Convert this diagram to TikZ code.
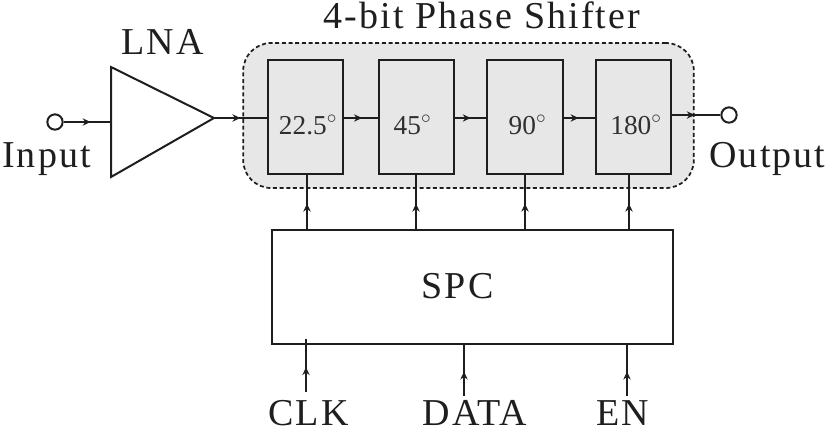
\documentclass[tikz,border=0pt]{standalone}
\usepackage{fontspec}
\setmainfont{Liberation Serif}
\usetikzlibrary{arrows.meta,decorations.markings}
\definecolor{panel}{RGB}{231,231,231}
\definecolor{ink}{RGB}{30,30,30}
\tikzset{
  x=0.75pt,y=-0.75pt,
  wire/.style={draw=ink,line width=1.4pt},
  flow/.style={wire,postaction={decorate},decoration={markings,mark=at position #1 with {\arrow{Stealth[length=6pt,width=5.5pt]}}}},
  flow/.default=0.5,
  phase/.style={draw=ink,line width=1.5pt,fill=panel,minimum width=56.5pt,minimum height=85.5pt,inner sep=0pt},
  phasetext/.style={anchor=base,inner sep=0pt,font=\fontsize{20.5}{22}\selectfont,text=ink!92},
  pin/.style={circle,draw=ink,line width=1.5pt,fill=white,minimum size=11.5pt,inner sep=0pt},
  lab/.style={anchor=base,inner sep=0pt,font=\fontsize{28.5}{30}\selectfont\addfontfeature{LetterSpace=5.5},text=ink},
}
\begin{document}
\begin{tikzpicture}
\useasboundingbox (0,0) rectangle (827,429);
\node[draw=ink,dash pattern=on 3pt off 2pt,line width=1.3pt,fill=panel,rounded corners=21pt,minimum width=338pt,minimum height=108.75pt,inner sep=0pt] (group) at (468.5,115.5) {};
\node[phase] (p1) at (305.5,117) {};
\node[phase] (p2) at (416.5,117) {};
\node[phase] (p3) at (525,117) {};
\node[phase] (p4) at (633.5,117) {};
\node[phasetext] (p1t) at (308,134) {22.5$^{\circ}$};
\node[phasetext] (p2t) at (412.5,134) {45$^{\circ}$};
\node[phasetext] (p3t) at (527.5,134) {90$^{\circ}$};
\node[phasetext] (p4t) at (636,134) {180$^{\circ}$};
\node[draw=ink,line width=1.5pt,minimum width=300.75pt,minimum height=85.5pt,inner sep=0pt] (spc) at (472.5,287) {};
\node[lab] (spct) at (457.5,298) {SPC};
\coordinate (t1) at (111,67);
\coordinate (t2) at (111,177);
\coordinate (lnaout) at (214,118);
\coordinate (lnain) at (111,122);
\draw[draw=ink,line width=1.5pt,line join=miter] (t1) -- (lnaout) -- (t2) -- cycle;
\node[pin] (in) at (55,122) {};
\node[pin] (out) at (729,115) {};
\draw[flow=0.57] (in) -- (lnain);
\draw[flow=0.5] (lnaout) -- (p1.west |- lnaout);
\draw[flow=0.53] (p1.east |- lnaout) -- (p2.west |- lnaout);
\draw[flow=0.5] (p2.east |- lnaout) -- (p3.west |- lnaout);
\draw[flow=0.48] (p3.east |- lnaout) -- (p4.west |- lnaout);
\draw[flow=0.47] (p4.east |- out) -- (out);
\coordinate (s1) at (307,230);
\coordinate (s2) at (416,230);
\coordinate (s3) at (525,230);
\coordinate (s4) at (629,230);
\draw[flow=0.48] (s1) -- (s1 |- p1.south);
\draw[flow=0.48] (s2) -- (s2 |- p2.south);
\draw[flow=0.48] (s3) -- (s3 |- p3.south);
\draw[flow=0.48] (s4) -- (s4 |- p4.south);
\node[lab] (title) at (482,28) {4-bit Phase Shifter};
\node[lab] (lna) at (162.5,54) {LNA};
\node[lab] (inl) at (46.5,167) {Input};
\node[lab] (outl) at (767.5,167) {Output};
\node[lab] (clk) at (308.5,425.5) {CLK};
\node[lab] (data) at (475,425.5) {DATA};
\node[lab] (en) at (623,425.5) {EN};
\coordinate (c1) at (306,392);
\coordinate (c2) at (464,396);
\coordinate (c3) at (627,396);
\coordinate (c1end) at (306,339);
\draw[flow=0.47] (c1) -- (c1end);
\draw[flow=0.48] (c2) -- (c2 |- spc.south);
\draw[flow=0.48] (c3) -- (c3 |- spc.south);
\end{tikzpicture}
\end{document}
